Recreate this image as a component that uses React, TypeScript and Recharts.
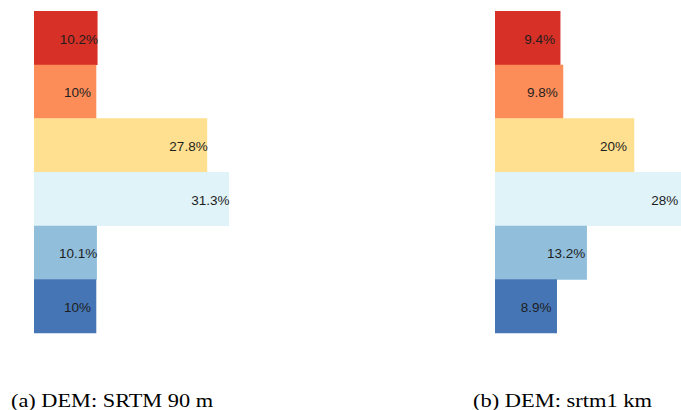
import React from 'react';
import { BarChart, Bar, XAxis, YAxis, Cell, LabelList } from 'recharts';

const categories = ['Class 1', 'Class 2', 'Class 3', 'Class 4', 'Class 5', 'Class 6'];
const srtm90Values = [10.2, 10, 27.8, 31.3, 10.1, 10];
const srtm1kmValues = [9.4, 9.8, 20, 28, 13.2, 8.9];
const classColors = ['#d73027', '#fc8d59', '#fee090', '#e0f3f8', '#91bfdb', '#4575b4'];
const captions = ['(a) DEM: SRTM 90 m', '(b) DEM: srtm1 km'];

const buildRows = (values: number[]) =>
  categories.map((name, i) => ({ name, value: values[i] }));

const makeLabel = (maxRight: number) => (props: any) => {
  const { x, y, width, height, value } = props;
  const pxPerUnit = width / value;
  const text = `${value}%`;
  const approxHalf = (text.length * 9.5) / 2;
  let cx = x + width - 3 * pxPerUnit;
  if (cx + approxHalf > maxRight) cx = maxRight - approxHalf;
  return (
    <text
      x={cx}
      y={y + height / 2 + 1}
      textAnchor="middle"
      dominantBaseline="central"
      fontFamily="'Liberation Sans', Arial, sans-serif"
      fontSize={13.5}
      fill="#1e1e1e"
    >
      {text}
    </text>
  );
};

const Panel = ({ values, left, maxRight }: { values: number[]; left: number; maxRight: number }) => {
  const data = buildRows(values);
  const max = Math.max(...values);
  return (
    <div style={{ position: 'absolute', left, top: 0 }}>
      <BarChart
        width={250}
        height={344}
        data={data}
        layout="vertical"
        margin={{ top: 11, right: 21, bottom: 11, left: 34 }}
        barCategoryGap={0}
      >
        <XAxis type="number" domain={[0, max]} hide />
        <YAxis type="category" dataKey="name" hide />
        <Bar dataKey="value" isAnimationActive={false}>
          {data.map((d, i) => (
            <Cell key={d.name} fill={classColors[i]} />
          ))}
          <LabelList dataKey="value" content={makeLabel(maxRight)} />
        </Bar>
      </BarChart>
    </div>
  );
};

export default function App() {
  return (
    <div
      style={{
        position: 'fixed',
        left: 0,
        top: 0,
        width: 681,
        height: 410,
        overflow: 'hidden',
        background: '#ffffff',
      }}
    >
      <Panel values={srtm90Values} left={0} maxRight={249} />
      <Panel values={srtm1kmValues} left={461} maxRight={218} />
      <svg width={681} height={410} style={{ position: 'absolute', left: 0, top: 0, pointerEvents: 'none' }}>
        <text
          x={11}
          y={407}
          fontFamily="'Liberation Serif', 'Times New Roman', serif"
          fontSize={18}
          fill="#000"
          textLength={202}
          lengthAdjust="spacingAndGlyphs"
        >
          {captions[0]}
        </text>
        <text
          x={473}
          y={407}
          fontFamily="'Liberation Serif', 'Times New Roman', serif"
          fontSize={18}
          fill="#000"
          textLength={179}
          lengthAdjust="spacingAndGlyphs"
        >
          {captions[1]}
        </text>
      </svg>
    </div>
  );
}
